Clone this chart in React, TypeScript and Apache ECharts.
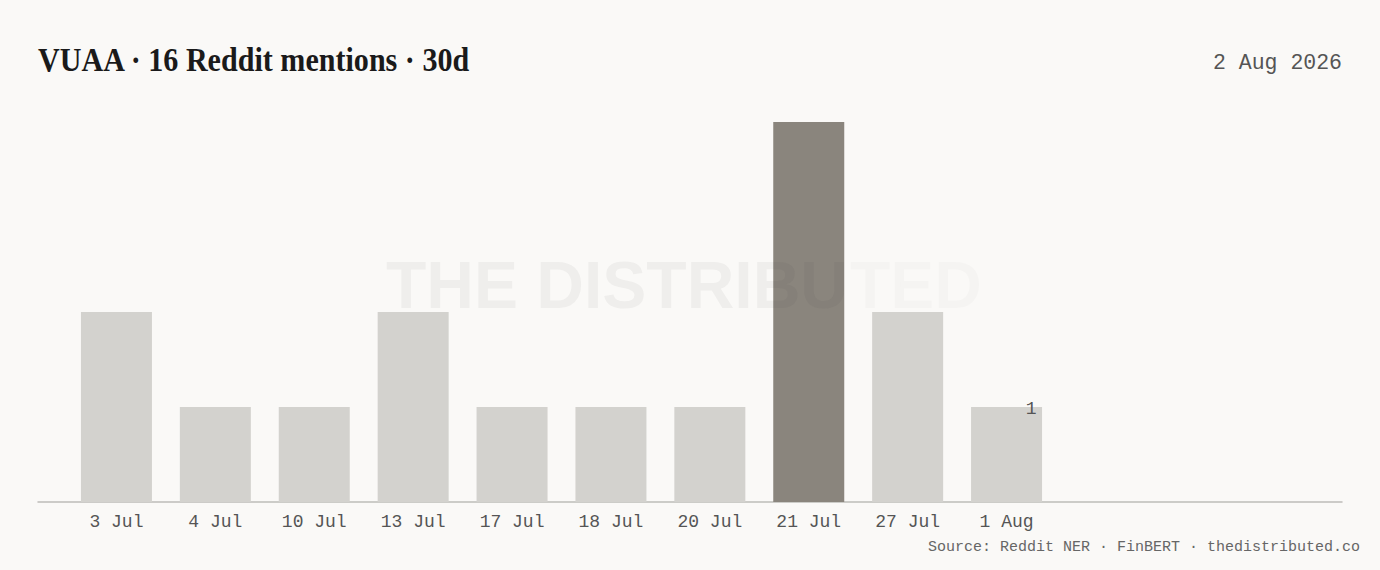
import React, { useEffect, useRef } from "react";
import * as echarts from "echarts";

const categories = ["3 Jul", "4 Jul", "10 Jul", "13 Jul", "17 Jul", "18 Jul", "20 Jul", "21 Jul", "27 Jul", "1 Aug"];
const mentions = [2, 1, 1, 2, 1, 1, 1, 4, 2, 1];
const peakIndex = 7;
const labelledIndex = 9;
const titleText = "VUAA · 16 Reddit mentions · 30d";
const dateText = "2 Aug 2026";
const sourceText = "Source: Reddit NER · FinBERT · thedistributed.co";
const watermarkMain = "THE DISTRIBU";
const watermarkTail = "TED";

const BG = "#faf9f7";
const LIGHT = "#d3d2ce";
const DARK = "#8a857d";
const MONO = "'Liberation Mono', 'DejaVu Sans Mono', monospace";
const SERIF = "'Liberation Serif', 'DejaVu Serif', serif";
const SANS = "'Liberation Sans', Arial, sans-serif";

export default function App() {
  const ref = useRef<HTMLDivElement>(null);
  useEffect(() => {
    document.body.style.margin = "0";
    document.body.style.background = BG;
    const chart = echarts.init(ref.current!, null, { renderer: "svg" });
    chart.setOption({
      animation: false,
      backgroundColor: BG,
      grid: [
        { left: 67, top: 122, width: 989, height: 380 },
        { left: 38, right: 38, top: 122, height: 380 },
      ],
      xAxis: [
        {
          type: "category",
          gridIndex: 0,
          data: categories,
          axisLine: { show: false },
          axisTick: { show: false },
          axisLabel: { color: "#555", fontFamily: MONO, fontSize: 18, margin: 11 },
        },
        {
          type: "value",
          gridIndex: 1,
          min: 0,
          max: 1,
          axisLine: { show: true, onZero: false, lineStyle: { color: "#bdbcb9", width: 1.5 } },
          axisTick: { show: false },
          axisLabel: { show: false },
          splitLine: { show: false },
        },
      ],
      yAxis: [
        { type: "value", gridIndex: 0, min: 0, max: 4, show: false, splitLine: { show: false } },
        { type: "value", gridIndex: 1, min: 0, max: 1, show: false, splitLine: { show: false } },
      ],
      series: [
        {
          type: "bar",
          xAxisIndex: 0,
          yAxisIndex: 0,
          barWidth: 71,
          data: mentions.map((v, i) => ({
            value: v,
            itemStyle: { color: i === peakIndex ? DARK : LIGHT },
            label:
              i === labelledIndex
                ? {
                    show: true,
                    position: [60, 2],
                    align: "center",
                    verticalAlign: "middle",
                    color: "#555",
                    fontFamily: MONO,
                    fontSize: 18,
                  }
                : { show: false },
          })),
          z: 2,
        },
      ],
      graphic: [
        {
          type: "text",
          x: 38,
          y: 59,
          scaleX: 0.885,
          style: {
            text: titleText,
            fill: "#1a1a1a",
            font: `bold 34px ${SERIF}`,
            align: "left",
            verticalAlign: "middle",
          },
        },
        {
          type: "text",
          x: 1342,
          y: 63,
          style: {
            text: dateText,
            fill: "#555",
            font: `21.5px ${MONO}`,
            align: "right",
            verticalAlign: "middle",
          },
        },
        {
          type: "text",
          x: 1360,
          y: 547,
          style: {
            text: sourceText,
            fill: "#666",
            font: `15px ${MONO}`,
            align: "right",
            verticalAlign: "middle",
          },
        },
        {
          type: "text",
          x: 386,
          y: 285,
          z: 100,
          style: {
            text: watermarkMain,
            fill: "rgba(60,55,50,0.055)",
            font: `bold 66px ${SANS}`,
            align: "left",
            verticalAlign: "middle",
          },
        },
        {
          type: "text",
          x: 982,
          y: 285,
          z: 100,
          style: {
            text: watermarkTail,
            fill: "rgba(60,55,50,0.02)",
            font: `bold 66px ${SANS}`,
            align: "right",
            verticalAlign: "middle",
            textShadowColor: "rgba(60,55,50,0.1)",
            textShadowBlur: 8,
          },
        },
      ],
    });
    return () => chart.dispose();
  }, []);
  return <div ref={ref} style={{ width: 1380, height: 570 }} />;
}
